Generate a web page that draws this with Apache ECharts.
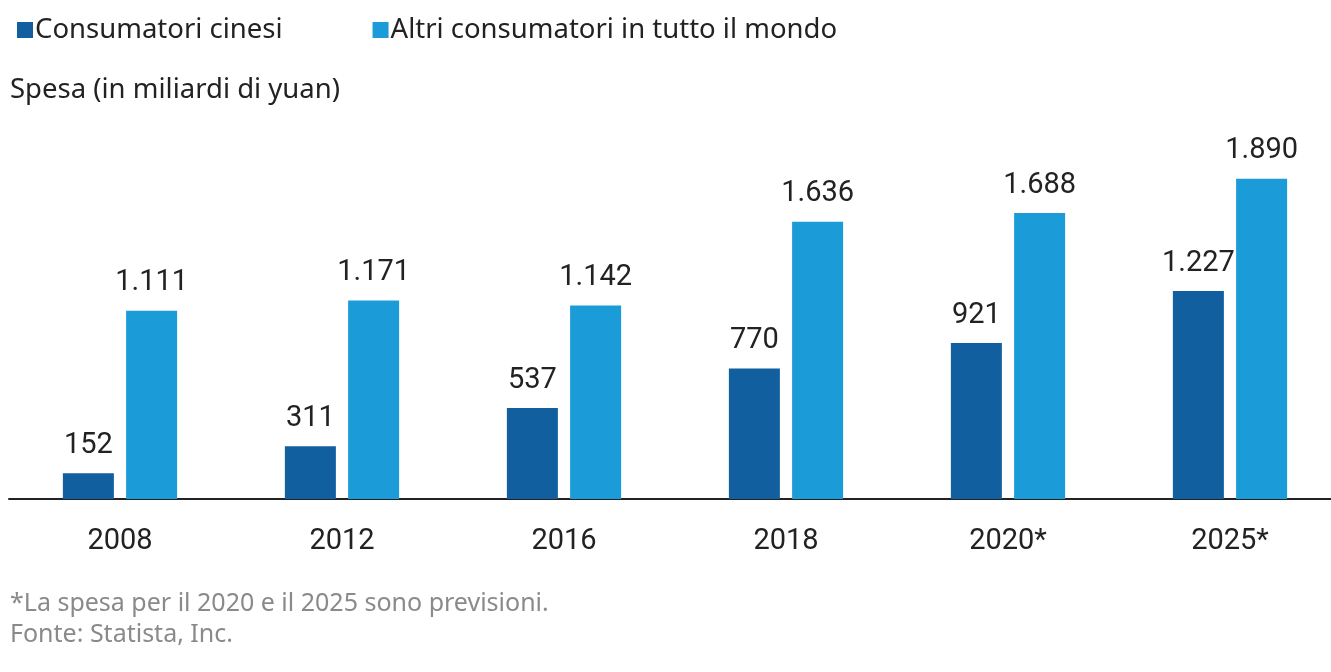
<!DOCTYPE html>
<html>
<head>
<meta charset="utf-8">
<script src="https://cdn.jsdelivr.net/npm/echarts@6/dist/echarts.min.js"></script>
<style>
  html, body { margin: 0; padding: 0; background: #fff; overflow: hidden; }
  /* the plot runs flush to the right edge, so the canvas is a bit wider than the view */
  #chart { width: 1341px; height: 672px; }
</style>
</head>
<body>
<div id="chart"></div>
<script>
// Spending on luxury goods, billions of yuan
const categories = ['2008', '2012', '2016', '2018', '2020*', '2025*'];
const chinaValues = [152, 311, 537, 770, 921, 1227];
const worldValues = [1111, 1171, 1142, 1636, 1688, 1890];
const seriesNames = ['Consumatori cinesi', 'Altri consumatori in tutto il mondo'];
const unitLabel = 'Spesa (in miliardi di yuan)';
const footNote = '*La spesa per il 2020 e il 2025 sono previsioni.';
const sourceNote = 'Fonte: Statista, Inc.';

const darkBlue = '#125FA0';
const lightBlue = '#1B9BD7';
const textFont = '"Noto Sans", "Open Sans", sans-serif';
const numFont = 'Roboto, sans-serif';

// thousands separator with a dot (Italian style)
const fmt = v => String(v).replace(/\B(?=(\d{3})+(?!\d))/g, '.');

const chart = echarts.init(document.getElementById('chart'), null, { renderer: 'canvas' });

const labelStyle = {
  show: true,
  position: 'top',
  distance: 13,
  fontFamily: numFont,
  fontSize: 29,
  color: '#222',
  formatter: p => fmt(p.value)
};

chart.setOption({
  animation: false,
  backgroundColor: '#fff',
  legend: {
    left: 12,
    top: 11,
    itemWidth: 16,
    itemHeight: 16,
    itemGap: 90,
    icon: 'rect',
    textStyle: { fontFamily: textFont, fontSize: 27.5, color: '#222', padding: [0, 0, 0, -3] },
    data: seriesNames
  },
  graphic: [
    { type: 'text', left: 10, top: 76, style: { text: unitLabel, font: '27.5px ' + textFont, fill: '#222' } },
    { type: 'text', left: 10, top: 591, style: { text: footNote, font: '25px ' + textFont, fill: '#8a8a8a' } },
    { type: 'text', left: 10, top: 622, style: { text: sourceNote, font: '25px ' + textFont, fill: '#8a8a8a' } }
  ],
  grid: { left: 9, right: 0, top: 160, bottom: 173, containLabel: false },
  xAxis: {
    type: 'category',
    data: categories,
    axisLine: { lineStyle: { color: '#222', width: 2 } },
    axisTick: { show: false },
    axisLabel: { fontFamily: numFont, fontSize: 29, color: '#222', margin: 28 }
  },
  yAxis: {
    type: 'value',
    min: 0,
    max: 2000,
    show: false,
    splitLine: { show: false }
  },
  series: [
    {
      name: seriesNames[0],
      type: 'bar',
      data: chinaValues,
      barWidth: 51,
      barGap: '24%',
      itemStyle: { color: darkBlue },
      label: labelStyle
    },
    {
      name: seriesNames[1],
      type: 'bar',
      data: worldValues,
      barWidth: 51,
      itemStyle: { color: lightBlue },
      label: labelStyle
    }
  ]
});
</script>
</body>
</html>
